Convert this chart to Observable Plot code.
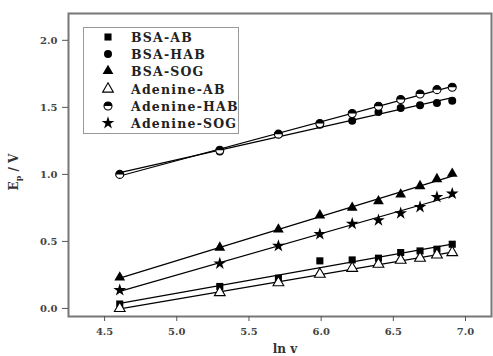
<!DOCTYPE html>
<html>
<head>
<meta charset="utf-8">
<script src="https://cdn.jsdelivr.net/npm/d3@7"></script>
<script src="https://cdn.jsdelivr.net/npm/@observablehq/plot@0.6"></script>
<style>
  html, body { margin: 0; padding: 0; background: #fff; }
  #chart svg { display: block; }
</style>
</head>
<body>
<div id="chart"></div>
<script>
// ---- data ----
const lnv = [4.605, 5.298, 5.704, 5.991, 6.215, 6.397, 6.551, 6.685, 6.802, 6.908];
const seriesNames = ["BSA-AB", "BSA-HAB", "BSA-SOG", "Adenine-AB", "Adenine-HAB", "Adenine-SOG"];
const bsaAB  = [0.033, 0.164, 0.226, 0.355, 0.362, 0.375, 0.417, 0.429, 0.442, 0.479];
const bsaHAB = [1.00, 1.17, 1.30, 1.37, 1.40, 1.466, 1.496, 1.516, 1.533, 1.55];
const bsaSOG = [0.231, 0.454, 0.59, 0.695, 0.752, 0.80, 0.85, 0.913, 0.965, 1.005];
const adAB   = [0.00, 0.119, 0.193, 0.256, 0.30, 0.33, 0.36, 0.375, 0.40, 0.417];
const adHAB  = [1.00, 1.18, 1.30, 1.38, 1.454, 1.508, 1.558, 1.60, 1.632, 1.65];
const adSOG  = [0.137, 0.335, 0.467, 0.554, 0.632, 0.658, 0.71, 0.757, 0.831, 0.856];
const xTicks = [4.5, 5.0, 5.5, 6.0, 6.5, 7.0];
const yTicks = [0.0, 0.5, 1.0, 1.5, 2.0];

const values = [bsaAB, bsaHAB, bsaSOG, adAB, adHAB, adSOG];
const data = [];
seriesNames.forEach((s, i) => values[i].forEach((v, j) => data.push({s, x: lnv[j], y: v})));
const of = s => data.filter(d => d.s === s);

// custom top-half symbol (for the half-filled marker)
const halfTop = {
  draw(ctx, size) {
    const r = Math.sqrt(size / Math.PI);
    ctx.moveTo(r, 0);
    ctx.arc(0, 0, r, 0, Math.PI, true);
    ctx.closePath();
  }
};

const R = 4;
const style = {
  "BSA-AB":      [{symbol: "square", fill: "black", stroke: "none"}],
  "BSA-HAB":     [{symbol: "circle", fill: "black", stroke: "none"}],
  "BSA-SOG":     [{symbol: "triangle", fill: "black", stroke: "none"}],
  "Adenine-AB":  [{symbol: "triangle", fill: "white", stroke: "black"}],
  "Adenine-HAB": [{symbol: "circle", fill: "white", stroke: "black"}, {symbol: halfTop, fill: "black", stroke: "none"}],
  "Adenine-SOG": [{symbol: "star", fill: "black", stroke: "none"}]
};

const dotMarks = [];
seriesNames.forEach(s => style[s].forEach(st =>
  dotMarks.push(Plot.dot(of(s), {x: "x", y: "y", r: R, symbol: st.symbol, fill: st.fill, stroke: st.stroke, strokeWidth: 1.1}))
));

const chart = Plot.plot({
  width: 493,
  height: 356,
  marginLeft: 68,
  marginRight: 2,
  marginTop: 13,
  marginBottom: 40,
  style: {fontFamily: "DejaVu Serif", fontWeight: "bold", fontSize: "10px", background: "white", color: "#444"},
  x: {domain: [4.25, 7.18], label: null},
  y: {domain: [-0.06, 2.2], label: null},
  marks: [
    Plot.frame({stroke: "#777", strokeWidth: 2}),
    Plot.axisX({ticks: xTicks, tickFormat: d3.format(".1f"), tickSize: 5, tickPadding: 6, label: null, stroke: "#555"}),
    Plot.axisY({ticks: yTicks, tickFormat: d3.format(".1f"), tickSize: 6, tickPadding: 5, label: null, stroke: "#555"}),
    Plot.linearRegressionY(data, {x: "x", y: "y", z: "s", stroke: "black", strokeWidth: 1.2, ci: 0}),
    ...dotMarks
  ]
});

document.getElementById("chart").appendChild(chart);

// ---- legend & axis labels ----
const svg = d3.select(chart);
const lg = svg.append("g").attr("font-family", "DejaVu Serif").attr("font-weight", "bold")
  .attr("font-size", 12.5).attr("letter-spacing", 1.2).attr("text-anchor", "start");
lg.append("rect").attr("x", 83.5).attr("y", 27.5).attr("width", 155).attr("height", 106)
  .attr("fill", "white").attr("stroke", "#999").attr("stroke-width", 1);
const rowY = [37, 54, 71, 89, 106, 123];
const d3sym = {square: d3.symbolSquare, circle: d3.symbolCircle, triangle: d3.symbolTriangle, star: d3.symbolStar};
seriesNames.forEach((s, i) => {
  const g = lg.append("g").attr("transform", `translate(108,${rowY[i]})`);
  style[s].forEach(st => {
    const type = typeof st.symbol === "string" ? d3sym[st.symbol] : st.symbol;
    g.append("path").attr("d", d3.symbol(type, Math.PI * R * R)())
      .attr("fill", st.fill).attr("stroke", st.stroke).attr("stroke-width", 1.1);
  });
  lg.append("text").attr("x", 131).attr("y", rowY[i]).attr("dy", "0.36em")
    .attr("text-anchor", "start").attr("fill", "#222").text(s);
});

const yl = svg.append("text").attr("transform", "translate(18,172) rotate(-90)")
  .attr("text-anchor", "middle").attr("font-family", "DejaVu Serif").attr("font-weight", "bold")
  .attr("font-size", 12).attr("fill", "#333");
yl.append("tspan").text("E");
yl.append("tspan").attr("font-size", 8).attr("dy", 3).text("p");
yl.append("tspan").attr("dy", -3).text(" / V");

svg.append("text").attr("x", 285).attr("y", 353).attr("text-anchor", "middle")
  .attr("font-family", "DejaVu Serif").attr("font-weight", "bold").attr("font-size", 12)
  .attr("fill", "#333").text("ln v");
</script>
</body>
</html>
